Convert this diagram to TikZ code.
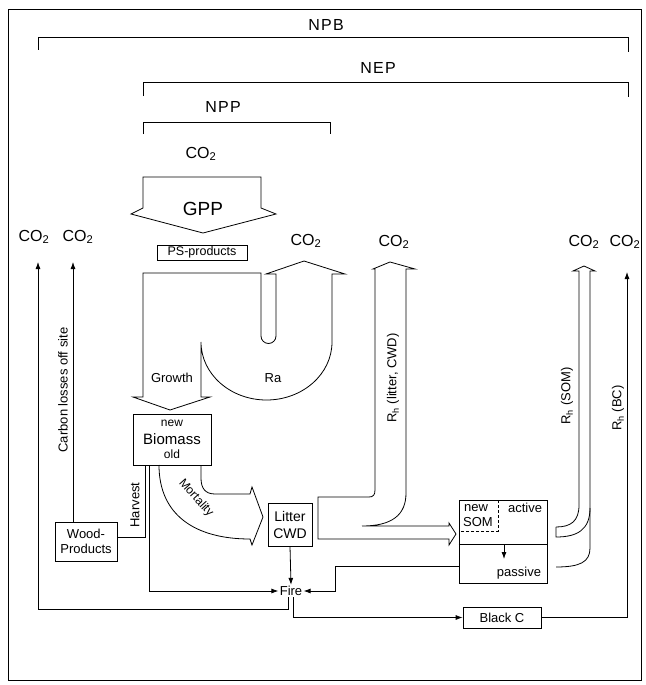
\documentclass[tikz,border=0pt]{standalone}
\usepackage{fontspec}
\setmainfont{Liberation Sans}
\newfontfamily\spacedfont[LetterSpace=8]{Liberation Sans}
\usetikzlibrary{arrows.meta}
\begin{document}
\begin{tikzpicture}[x=1pt,y=-1pt,line width=0.8pt,line join=miter,
  box/.style={draw,line width=0.7pt,inner sep=0pt,align=center,font=\fontsize{13}{15}\selectfont},
  thead/.style={font=\spacedfont\fontsize{16}{18}\selectfont},
  tco/.style={font=\fontsize{16}{18}\selectfont,inner sep=0pt},
  tlab/.style={font=\fontsize{13}{15}\selectfont,inner sep=1pt},
  tsmall/.style={font=\fontsize{12}{14}\selectfont,inner sep=0pt},
  arr/.style={-{Latex[length=7pt,width=5pt]}},
  brk/.style={line width=0.9pt}]
\useasboundingbox (0,0) rectangle (645,685);
% frame
\draw[line width=0.7pt] (8,9) rectangle (641,680);
% brackets
\node[thead] (npb) at (326,25) {NPB};
\draw[brk] (38,50) -- (38,37) -- (628,37) -- (628,52);
\node[thead] (nep) at (378,68) {NEP};
\draw[brk] (143,96) -- (143,82) -- (628,82) -- (628,97);
\node[thead] (npp) at (223,107) {NPP};
\draw[brk] (143,134) -- (143,122) -- (330,122) -- (330,134);
% GPP arrow
\node[tco] (co2top) at (201,154) {CO\textsubscript{2}};
\draw (143,177) -- (143,208) -- (131,214) -- (203,233) -- (276,214) -- (261,208) -- (261,177) -- cycle;
\node[font=\fontsize{19}{21}\selectfont] (gpp) at (203,209) {GPP};
\node[box,minimum width=90pt,minimum height=15pt,font=\fontsize{12.5}{14}\selectfont] (ps) at (202,252.5) {PS-products};
% U-shaped flow (growth + Ra)
\draw (261,273) -- (143,273) -- (143,397) -- (133,397) -- (170,410) -- (210,397) -- (201,397) -- (201,342)
  arc[start angle=180,end angle=0,x radius=65.5,y radius=58]
  -- (332,274) -- (345,274) -- (304,261) -- (266,274) -- (276,274) -- (276,336)
  arc[start angle=0,end angle=180,radius=7.5] -- cycle;
\node[tlab] (growth) at (172,378) {Growth};
\node[tlab] (ra) at (273,378) {Ra};
\node[tco] (co2ra) at (306,241) {CO\textsubscript{2}};
% Biomass
\node[box,minimum width=78pt,minimum height=51pt,font=\fontsize{15}{17}\selectfont] (biomass) at (172,439.5) {Biomass};
\node[tsmall] (bnew) at (172,423) {new};
\node[tsmall] (bold) at (172,454) {old};
% Mortality flow
\draw (159,465) .. controls (159,515) and (195,539) .. (250,539) -- (252,545) -- (263,517) -- (252,487) -- (250,494)
  -- (215,494) .. controls (205,494) and (201,488) .. (201,478) -- (201,465);
\node[font=\fontsize{12}{14}\selectfont,inner sep=0pt,rotate=-48] (mort) at (196,498) {Mortality};
% Litter
\node[box,minimum width=44pt,minimum height=43pt,font=\fontsize{14}{17}\selectfont] (litter) at (290,524.5) {Litter\\CWD};
% Wood products
\node[box,minimum width=62pt,minimum height=39pt] (wood) at (86,541.5) {Wood-\\Products};
\node[tlab,rotate=90] (harv) at (135,505) {Harvest};
\draw ([xshift=13pt]biomass.south west) |- ([yshift=4pt]wood.east);
\node[tlab,rotate=90] (closs) at (63,390) {Carbon losses off site};
\coordinate (wtop) at (73,262);
\draw[arr] (wood.north -| wtop) -- (wtop);
\node[tco] (co2a) at (34,237) {CO\textsubscript{2}};
\node[tco] (co2b) at (78,237) {CO\textsubscript{2}};
% Fire
\node[tlab] (fire) at (291,591) {Fire};
\draw[arr] (litter.south) -- (fire.north);
\draw[arr] ([xshift=17pt]biomass.south west) |- (fire.west);
% SOM
\node[box,minimum width=88pt,minimum height=83pt] (som) at (503,541.5) {};
\draw[line width=0.7pt] (som.west |- 0,544) -- (som.east |- 0,544);
\draw[line width=0.7pt,dash pattern=on 3pt off 2pt] (498,500) -- (498,531) -- (459,531);
\node[tsmall,font=\fontsize{13}{15}\selectfont] (snew) at (476,508) {new};
\node[tsmall,font=\fontsize{13}{15}\selectfont] (ssom) at (478,522) {SOM};
\node[tsmall,font=\fontsize{13}{15}\selectfont] (sact) at (525,508) {active};
\node[tsmall,font=\fontsize{13}{15}\selectfont] (spas) at (519,573) {passive};
\draw[arr] (504,544) -- (504,559);
\draw[arr] ([yshift=-24.5pt]som.west) -- (335,566) |- (fire.east);
% Rh litter, CWD flow
\draw (318,539) -- (318,497) -- (369,497) .. controls (373,497) and (375,495) .. (375,490) -- (375,269)
  -- (373,269) -- (390,262) -- (415,269) -- (406,269) -- (406,493)
  .. controls (406,515) and (392,526) .. (362,526) -- (449,526) -- (449,523) -- (456,534) -- (449,545) -- (449,539) -- cycle;
\node[tlab,rotate=90] (rhl) at (393,378) {R\textsubscript{h} (litter, CWD)};
\node[tco] (co2l) at (394,242) {CO\textsubscript{2}};
% Rh SOM flow
\draw (556,527) .. controls (571,527) and (579,521) .. (579,505) -- (579,271) -- (573,271) -- (584,266) -- (595,271) -- (590,271)
  -- (590,548) .. controls (590,562) and (580,567) .. (556,567);
\draw (556,527) -- (556,537) .. controls (577,537) and (590,530) .. (590,508);
\node[tlab,rotate=90] (rhs) at (567,396) {R\textsubscript{h} (SOM)};
\node[tco] (co2s) at (584,242) {CO\textsubscript{2}};
% Black C
\node[box,minimum width=78pt,minimum height=21pt] (blackc) at (502,617.5) {Black C};
\draw[arr] ([xshift=-3pt]fire.south) -- ++(0,12) -| (wtop -| 38,0);
\draw[arr] ([xshift=2pt]fire.south) |- (blackc.west);
\coordinate (bctop) at (627,272);
\draw[arr] (blackc.east) -| (bctop);
\node[tlab,rotate=90] (rhb) at (618,408) {R\textsubscript{h} (BC)};
\node[tco] (co2c) at (625,242) {CO\textsubscript{2}};
\end{tikzpicture}
\end{document}
